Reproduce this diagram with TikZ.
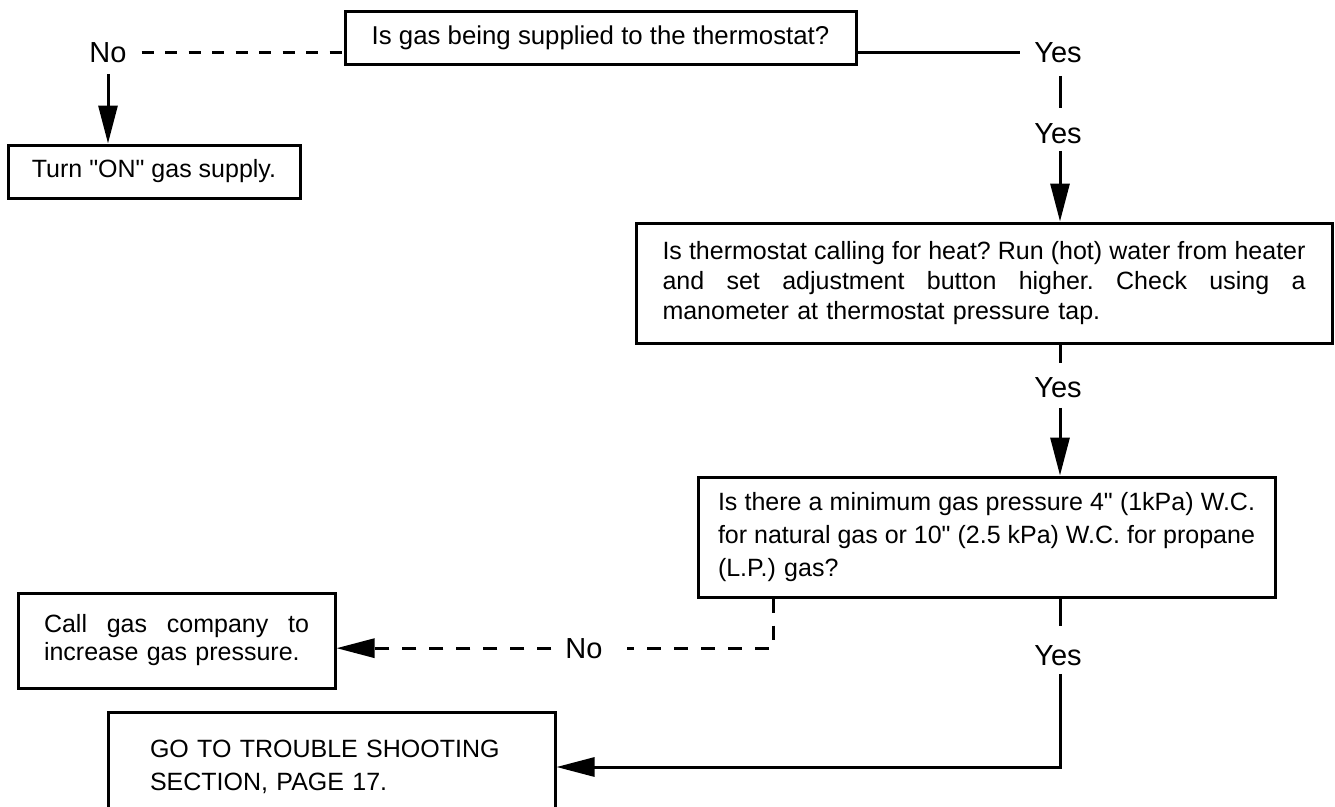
\documentclass[tikz,border=0pt]{standalone}
\usepackage{fontspec}
\setmainfont{Liberation Sans}[Ligatures=TeXOff]
\usetikzlibrary{arrows.meta}
\newcommand\jline[2]{\makebox[#1][s]{\spaceskip=0pt\xspaceskip=0pt\frenchspacing #2}}
\begin{document}
\frenchspacing
\begin{tikzpicture}[x=1pt,y=-1pt,line width=3pt,
  box/.style={draw,line width=3pt,rectangle,inner sep=0pt,font=\fontsize{25}{28}\selectfont\frenchspacing},
  lbl/.style={inner sep=0pt,anchor=base,font=\fontsize{29}{32}\selectfont},
  arr/.style={-{Triangle[length=38pt,width=19pt]}},
  dshtop/.style={dash pattern=on 12pt off 11.5pt},
  dshbot/.style={dash pattern=on 14pt off 13pt}]
\fill[white] (0,0) rectangle (1335,806);
\clip (0,0) rectangle (1335,806);
% boxes
\node[box,minimum width=511pt,minimum height=53pt,font=\fontsize{25.8}{28}\selectfont] (q1) at (600.5,37.5)
  {Is gas being supplied to the thermostat?};
\node[box,minimum width=292pt,minimum height=53pt] (turn) at (154,171.5)
  {Turn "ON" gas supply.};
\node[box,minimum width=696pt,minimum height=120pt,text width=643pt,align=left,
  font=\fontsize{25}{30}\selectfont\frenchspacing] (q3) at (984,283)
  {\jline{643pt}{Is thermostat calling for heat? Run (hot) water from heater}\\
   \jline{643pt}{and set adjustment button higher. Check using a}\\
   manometer at thermostat pressure tap.};
\node[box,minimum width=577pt,minimum height=120pt,text width=537pt,align=left,
  font=\fontsize{25}{33}\selectfont\frenchspacing] (q4) at (986.5,537)
  {\jline{537pt}{Is there a minimum gas pressure 4" (1kPa) W.C.}\\
   \jline{537pt}{for natural gas or 10" (2.5 kPa) W.C. for propane}\\
   (L.P.) gas?};
\node[box,minimum width=317pt,minimum height=95pt,text width=265pt,align=left] (call) at (176.5,640.5)
  {\jline{265pt}{Call gas company to}\\
   increase gas pressure.};
\node[box,minimum width=447pt,minimum height=110pt,text width=363pt,align=left,
  font=\fontsize{25}{33}\selectfont] (go) at (331.5,767)
  {GO TO TROUBLE SHOOTING\\
   SECTION, PAGE 17.};
% labels
\node[lbl] (no1) at (108,62) {No};
\node[lbl] (yes1) at (1058,62) {Yes};
\node[lbl] (yes2) at (1058,143) {Yes};
\node[lbl] (yes3) at (1058,397) {Yes};
\node[lbl] (yes4) at (1058,665) {Yes};
\node[lbl] (no2) at (584,658) {No};
\coordinate (nk) at (773,0);
\coordinate (col) at (1060,0);
% connectors
\draw[dshtop,shorten <=13.5pt] (no1.east) -- (no1.east -| q1.west);
\draw[arr,shorten <=10pt] (no1.south) -- (turn.north -| no1.south);
\draw[shorten >=13pt] (yes1.west -| q1.east) -- (yes1.west);
\draw[shorten <=12pt,shorten >=14pt] (col |- yes1.south) -- (col |- yes2.north);
\draw[arr,shorten <=6pt] (col |- yes2.south) -- (col |- q3.north);
\draw[shorten >=13pt] (col |- q3.south) -- (col |- yes3.north);
\draw[arr,shorten <=9pt] (col |- yes3.south) -- (col |- q4.north);
\draw[shorten >=18pt] (col |- q4.south) -- (col |- yes4.north);
\draw[arr,shorten <=7pt] (col |- yes4.south) |- (go.east);
\draw[dshbot,shorten >=22.5pt] (nk |- q4.south) -- (nk |- no2.east) -- (no2.east);
\draw[dshbot,arr,shorten <=12.5pt] (no2.west) -- (no2.west -| call.east);
\end{tikzpicture}
\end{document}
